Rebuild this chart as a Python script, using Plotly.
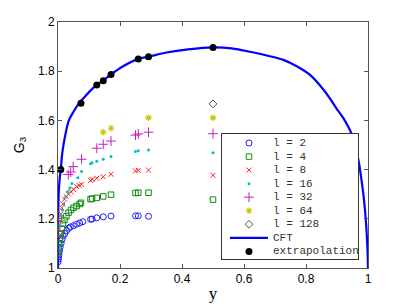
import plotly.graph_objects as go

# ---------------- data ----------------
y_l2 = [0.0005, 0.001, 0.002, 0.003, 0.005, 0.007, 0.01, 0.013, 0.017, 0.022, 0.028,
        0.035, 0.04, 0.05, 0.06, 0.07, 0.08, 0.105, 0.11, 0.125, 0.146, 0.171,
        0.25, 0.259, 0.292]
G_l2 = [1.025, 1.035, 1.045, 1.055, 1.07, 1.085, 1.10, 1.115, 1.13, 1.14, 1.152,
        1.162, 1.167, 1.172, 1.178, 1.183, 1.188, 1.198, 1.199, 1.204, 1.208, 1.211,
        1.212, 1.212, 1.21]

y_l4 = [0.001, 0.002, 0.004, 0.006, 0.009, 0.012, 0.016, 0.021, 0.027, 0.034, 0.042,
        0.05, 0.06, 0.07, 0.074, 0.105, 0.11, 0.125, 0.146, 0.171, 0.25, 0.259,
        0.292, 0.5]
G_l4 = [1.06, 1.08, 1.10, 1.12, 1.14, 1.16, 1.18, 1.195, 1.21, 1.225, 1.236,
        1.245, 1.252, 1.26, 1.265, 1.28, 1.282, 1.285, 1.291, 1.298, 1.305, 1.306,
        1.306, 1.278]

y_l8 = [0.002, 0.004, 0.006, 0.009, 0.012, 0.016, 0.021, 0.027, 0.034, 0.042, 0.05,
        0.06, 0.068, 0.076, 0.105, 0.11, 0.125, 0.146, 0.171, 0.25, 0.259, 0.292, 0.5]
G_l8 = [1.13, 1.16, 1.19, 1.22, 1.245, 1.26, 1.28, 1.29, 1.30, 1.31, 1.32,
        1.331, 1.336, 1.34, 1.356, 1.36, 1.365, 1.371, 1.381, 1.395, 1.397, 1.398, 1.377]

y_l16 = [0.006, 0.01, 0.014, 0.019, 0.025, 0.031, 0.038, 0.045, 0.064, 0.076, 0.105,
         0.11, 0.125, 0.146, 0.171, 0.25, 0.259, 0.292, 0.5]
G_l16 = [1.175, 1.21, 1.236, 1.26, 1.29, 1.31, 1.325, 1.344, 1.367, 1.392, 1.424,
         1.428, 1.434, 1.442, 1.453, 1.474, 1.477, 1.48, 1.469]

y_l32 = [0.033, 0.041, 0.049, 0.076, 0.125, 0.146, 0.171, 0.25, 0.259, 0.292, 0.5]
G_l32 = [1.38, 1.39, 1.412, 1.442, 1.487, 1.503, 1.516, 1.54, 1.545, 1.552, 1.546]

y_l64 = [0.146, 0.171, 0.292, 0.5]
G_l64 = [1.552, 1.568, 1.611, 1.611]

y_l128 = [0.5]
G_l128 = [1.667]

y_cft = [0, 0.0003, 0.001, 0.003, 0.006, 0.009, 0.014, 0.025, 0.035, 0.05, 0.065,
         0.082, 0.1, 0.125, 0.146, 0.171, 0.21, 0.259, 0.292, 0.35, 0.42, 0.5,
         0.56, 0.62, 0.68, 0.727, 0.77, 0.813, 0.85, 0.877, 0.9, 0.92, 0.947,
         0.969, 0.976, 0.985, 0.993, 0.998, 1.0]
G_cft = [1.0, 1.16, 1.24, 1.32, 1.37, 1.40, 1.47, 1.55, 1.60, 1.635, 1.665,
         1.69, 1.715, 1.744, 1.762, 1.787, 1.82, 1.85, 1.859, 1.876, 1.889, 1.897,
         1.893, 1.879, 1.862, 1.846, 1.82, 1.785, 1.735, 1.69, 1.645, 1.61, 1.545,
         1.44, 1.385, 1.30, 1.195, 1.087, 1.0]

y_ext = [0.009, 0.074, 0.125, 0.146, 0.171, 0.259, 0.292, 0.5]
G_ext = [1.40, 1.67, 1.744, 1.761, 1.787, 1.850, 1.859, 1.896]

x_ticks = [0, 0.2, 0.4, 0.6, 0.8, 1]
x_tick_labels = ["0", "0.2", "0.4", "0.6", "0.8", "1"]
y_ticks = [1, 1.2, 1.4, 1.6, 1.8, 2]
y_tick_labels = ["1", "1.2", "1.4", "1.6", "1.8", "2"]

# ---------------- styles ----------------
series = [
    ("l = 2", y_l2, G_l2, dict(symbol="circle-open", color="#2020ff", size=6, line=dict(width=1, color="#2020ff"))),
    ("l = 4", y_l4, G_l4, dict(symbol="square-open", color="#108a10", size=5.5, line=dict(width=1, color="#108a10"))),
    ("l = 8", y_l8, G_l8, dict(symbol="x-thin-open", color="#ff2020", size=5, line=dict(width=1, color="#ff2020"))),
    ("l = 16", y_l16, G_l16, dict(symbol="circle", color="#00bfbf", size=3, line=dict(width=0))),
    ("l = 32", y_l32, G_l32, dict(symbol="cross-thin-open", color="#c020c0", size=7, line=dict(width=1, color="#c020c0"))),
    ("l = 64", y_l64, G_l64, dict(symbol="asterisk-open", color="#c8c810", size=5.5, line=dict(width=1.2, color="#c8c810"))),
    ("l = 128", y_l128, G_l128, dict(symbol="diamond-open", color="#505050", size=6, line=dict(width=1, color="#505050"))),
]
cft_line = dict(color="#0000ff", width=2.2)
ext_marker = dict(symbol="circle", color="#000000", size=7)

W, H = 407, 306
ML, MR, MT, MB = 58, 39, 22, 38
axis_color = "#555555"

fig = go.Figure()

# main curve
fig.add_trace(go.Scatter(x=y_cft, y=G_cft, mode="lines", line=dict(shape="spline", smoothing=0.8, **cft_line),
                         showlegend=False, hoverinfo="skip"))
for name, xs, ys, mk in series:
    fig.add_trace(go.Scatter(x=xs, y=ys, mode="markers", marker=mk, name=name, showlegend=False))
fig.add_trace(go.Scatter(x=y_ext, y=G_ext, mode="markers", marker=ext_marker, name="extrapolation",
                         showlegend=False))

# ---------------- hand-made legend (compact, MATLAB-like) ----------------
leg_px = dict(left=222, right=358, top=134, bottom=259)
plot_w = W - ML - MR
plot_h = H - MT - MB
leg_dom_x = [(leg_px["left"] - ML) / plot_w, (leg_px["right"] - ML) / plot_w]
leg_dom_y = [(H - MB - leg_px["bottom"]) / plot_h, (H - MB - leg_px["top"]) / plot_h]
leg_w = leg_px["right"] - leg_px["left"]
leg_entries = [s[0] for s in series] + ["CFT", "extrapolation"]
n = len(leg_entries)
row_h = 13.55
top_pad = 9.0 / row_h
y_range = [(leg_px["bottom"] - leg_px["top"]) / row_h - top_pad, -top_pad]
sym_x = 27
text_x = 49

fig.add_shape(type="rect", xref="x2", yref="y2", x0=0, x1=leg_w, y0=y_range[1], y1=y_range[0],
              fillcolor="white", line=dict(width=0), layer="between")

for i, (name, xs, ys, mk) in enumerate(series):
    fig.add_trace(go.Scatter(x=[sym_x], y=[i], xaxis="x2", yaxis="y2", mode="markers", marker=mk,
                             showlegend=False, hoverinfo="skip"))
i_cft = len(series)
fig.add_trace(go.Scatter(x=[8, 46], y=[i_cft, i_cft], xaxis="x2", yaxis="y2", mode="lines",
                         line=cft_line, showlegend=False, hoverinfo="skip"))
fig.add_trace(go.Scatter(x=[sym_x], y=[i_cft + 1], xaxis="x2", yaxis="y2", mode="markers",
                         marker=ext_marker, showlegend=False, hoverinfo="skip"))
for i, name in enumerate(leg_entries):
    fig.add_annotation(x=text_x, y=i, xref="x2", yref="y2", text=name, showarrow=False,
                       xanchor="left", yanchor="middle",
                       font=dict(family="Liberation Mono", size=11, color="#333333"))

tick_font = dict(family="Liberation Sans", size=12, color="#000000")
fig.update_layout(
    width=W, height=H,
    margin=dict(l=ML, r=MR, t=MT, b=MB, autoexpand=False),
    paper_bgcolor="white", plot_bgcolor="white",
    showlegend=False,
    xaxis=dict(range=[0, 1], tickvals=x_ticks, ticktext=x_tick_labels, ticks="inside", ticklen=4,
               tickcolor=axis_color, showline=True, linecolor=axis_color, linewidth=1, mirror="ticks",
               showgrid=False, zeroline=False, tickfont=tick_font,
               title=dict(text="y", font=dict(family="Liberation Serif", size=17, color="#000000"), standoff=1)),
    yaxis=dict(range=[1, 2], tickvals=y_ticks, ticktext=y_tick_labels, ticks="inside", ticklen=4,
               tickcolor=axis_color, showline=True, linecolor=axis_color, linewidth=1, mirror="ticks",
               showgrid=False, zeroline=False, tickfont=tick_font,
               title=dict(text="G<sub>3</sub>", font=dict(family="Liberation Sans", size=14, color="#000000"),
                          standoff=10)),
    xaxis2=dict(domain=leg_dom_x, range=[0, leg_w], anchor="y2", showline=True, mirror=True,
                linecolor="#333333", linewidth=1, showticklabels=False, ticks="", showgrid=False,
                zeroline=False, fixedrange=True),
    yaxis2=dict(domain=leg_dom_y, range=y_range, anchor="x2", showline=True, mirror=True,
                linecolor="#333333", linewidth=1, showticklabels=False, ticks="", showgrid=False,
                zeroline=False, fixedrange=True),
)

fig.write_html("out.html", config={"displayModeBar": False},
               post_script="document.body.style.margin='0';document.body.style.padding='0';")
